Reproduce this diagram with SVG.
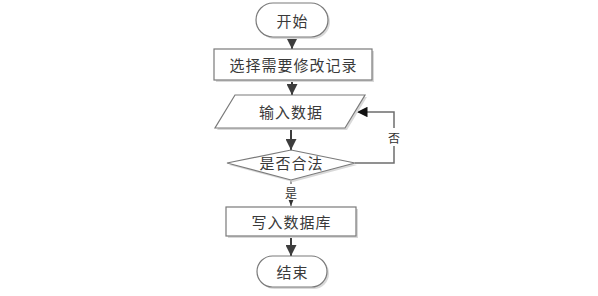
<svg xmlns="http://www.w3.org/2000/svg" width="598" height="296" viewBox="0 0 598 296">
<style>
.shape{fill:#fff;stroke:#7a7a7a;stroke-width:1.2}
.shadow{fill:#d9d9d9;stroke:none}
.t{font-family:"Noto Sans CJK SC","Noto Sans",sans-serif;font-size:15px;letter-spacing:1px;fill:#3a3a3a;text-anchor:middle;dominant-baseline:central}
.lbl{font-family:"Noto Sans CJK SC","Noto Sans",sans-serif;font-size:12px;fill:#333;text-anchor:middle;dominant-baseline:central}
.main{stroke:#3d3d3d;stroke-width:2;fill:none}
.thin{stroke:#6e6e6e;stroke-width:1.5;fill:none}
</style>
<defs>
<marker id="ah" viewBox="0 0 10 10" refX="10" refY="5" markerWidth="5.5" markerHeight="5.5" markerUnits="strokeWidth" orient="auto">
<path d="M0,0 L10,5 L0,10 Z" fill="#3d3d3d"/>
</marker>
<marker id="ah2" viewBox="0 0 10 10" refX="10" refY="5" markerWidth="7" markerHeight="7" markerUnits="strokeWidth" orient="auto">
<path d="M0,0 L10,5 L0,10 Z" fill="#111"/>
</marker>
<marker id="ah3" viewBox="0 0 10 10" refX="10" refY="5" markerWidth="6" markerHeight="6" markerUnits="strokeWidth" orient="auto">
<path d="M0,1 L10,5 L0,9 Z" fill="#333"/>
</marker>
</defs>
<g id="connectors">
<line class="main" x1="292" y1="37" x2="292" y2="49" marker-end="url(#ah)"/>
<line class="main" x1="292" y1="80" x2="292" y2="95" marker-end="url(#ah)"/>
<line class="main" x1="291" y1="128" x2="291" y2="150" marker-end="url(#ah)"/>
<polyline class="thin" points="355,163 394,163 394,112 357,112" marker-end="url(#ah2)"/>
<rect x="386" y="128" width="16" height="18" fill="#fff"/>
<text class="lbl" x="394" y="137">否</text>
<line stroke="#444" stroke-width="1" x1="291" y1="180" x2="291" y2="206" marker-end="url(#ah3)"/>
<rect x="284" y="184" width="14" height="16" fill="#fff"/>
<text class="lbl" x="291" y="192">是</text>
<line class="main" x1="291" y1="236" x2="291" y2="256" marker-end="url(#ah)"/>
</g>
<g id="start">
<rect class="shadow" x="258" y="5" width="72" height="34" rx="17"/>
<rect class="shape" x="256" y="3" width="72" height="34" rx="17"/>
<text class="t" x="292.5" y="20">开始</text>
</g>
<g id="select">
<rect class="shadow" x="216" y="51" width="158" height="31"/>
<rect class="shape" x="214" y="49" width="158" height="31"/>
<text class="t" x="293.5" y="64.5">选择需要修改记录</text>
</g>
<g id="input">
<polygon class="shadow" points="237,97 367,97 347,130 217,130"/>
<polygon class="shape" points="235,95 365,95 345,128 215,128"/>
<text class="t" x="291" y="111.5">输入数据</text>
</g>
<g id="check">
<polygon class="shadow" points="293,152 357,165 293,182 229,165"/>
<polygon class="shape" points="291,150 355,163 291,180 227,163"/>
<text class="t" x="291.5" y="162">是否合法</text>
</g>
<g id="write">
<rect class="shadow" x="228" y="209" width="130" height="29"/>
<rect class="shape" x="226" y="207" width="130" height="29"/>
<text class="t" x="291.5" y="221.5">写入数据库</text>
</g>
<g id="end">
<rect class="shadow" x="259" y="258" width="70" height="31" rx="15.5"/>
<rect class="shape" x="257" y="256" width="70" height="31" rx="15.5"/>
<text class="t" x="292.5" y="271.5">结束</text>
</g>
</svg>
